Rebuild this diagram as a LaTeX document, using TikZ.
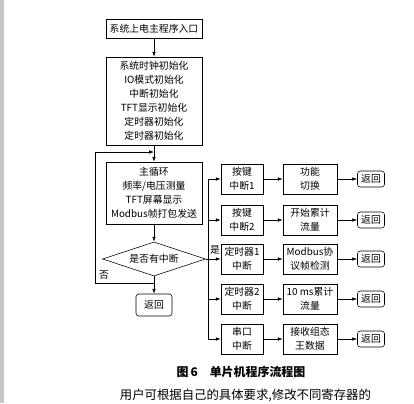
\documentclass[tikz,border=0pt]{standalone}
\usepackage{fontspec}
\setmainfont{Noto Sans CJK SC}
\usetikzlibrary{positioning,shapes.geometric,arrows.meta}

\begin{document}
\begin{tikzpicture}[ % one unit = one pixel of the reference
x=0.025cm, y=-0.025cm,
font=\fontsize{7}{10}\selectfont,
box/.style={rectangle, draw=black, thin, fill=white, inner sep=1pt, align=center},
big_box/.style={box, minimum width=24mm},
int_box/.style={box, minimum width=10.5mm, minimum height=7.5mm},
act_box/.style={box, minimum width=13.5mm, minimum height=7.5mm},
ret_box/.style={box, rounded corners=2pt, minimum width=6.75mm, minimum height=4mm},
decision/.style={diamond, draw=black, thin, fill=white, inner sep=0pt, aspect=3, minimum width=25.75mm, minimum height=8.5mm},
out_arrow/.style={-{Latex[length=3.5pt,width=2.5pt]}, thin},
plain_line/.style={thin}
]
\useasboundingbox (0,0) rectangle (414,403);
\fill[gray!45] (0,0) rectangle (4,403);

% main column
\node[big_box, minimum height=4.75mm](entry) at (154,29) {系统上电主程序入口};
\node[big_box, minimum height=22mm](init) at (154,101) {系统时钟初始化\\IO模式初始化\\中断初始化\\TFT显示初始化\\定时器初始化\\定时器初始化};
\node[big_box, minimum height=15.5mm](main_loop) at (154,193) {主循环\\频率/电压测量\\TFT屏幕显示\\Modbus帧打包发送};
\node[decision](has_int) at (154,259) {是否有中断};
\node[ret_box, minimum width=9mm, minimum height=5.5mm](main_ret) at (154,305) {返回};

% interrupt rows
\node[int_box](key1) at (242,179) {按键\\中断1};
\node[act_box](func_switch) at (310,179) {功能\\切换};
\node[ret_box](key1_ret) at (371,179) {返回};

\node[int_box](key2) at (242,220) {按键\\中断2};
\node[act_box](flow_start) at (310,220) {开始累计\\流量};
\node[ret_box](key2_ret) at (371,220) {返回};

\node[int_box](timer1) at (242,259) {定时器1\\中断};
\node[act_box](modbus_check) at (310,259) {Modbus协\\议帧检测};
\node[ret_box](timer1_ret) at (371,259) {返回};

\node[int_box](timer2) at (242,299) {定时器2\\中断};
\node[act_box](flow_10ms) at (310,299) {10 ms累计\\流量};
\node[ret_box](timer2_ret) at (371,299) {返回};

\node[int_box](uart) at (242,339) {串口\\中断};
\node[act_box](recv_data) at (310,339) {接收组态\\王数据};
\node[ret_box](uart_ret) at (371,339) {返回};

% labels
\node(yes_label) at (215,250) {是};
\node(no_label) at (104,275) {否};

% points of the bus and the loop
\coordinate(bus_top) at (208,179);
\coordinate(bus_mid) at (208,259);
\coordinate(bus_bot) at (208,339);
\coordinate(no_turn) at (154,283);
\coordinate(loop_bl) at (95,283);
\coordinate(loop_tl) at (95,152);
\coordinate(loop_in) at (154,152);

\draw[out_arrow](entry) -- (init);
\draw[out_arrow](init) -- (main_loop);
\draw[out_arrow](main_loop) -- (has_int);
\draw[out_arrow](has_int) -- (main_ret);
\draw[out_arrow](no_turn) -- (loop_bl) -- (loop_tl) -- (loop_in);

\draw[plain_line](has_int.east) -- (bus_mid);
\draw[plain_line](bus_top) -- (bus_bot);
\draw[out_arrow](bus_top) -- (key1);
\draw[out_arrow](key2 -| bus_top) -- (key2);
\draw[out_arrow](bus_mid) -- (timer1);
\draw[out_arrow](timer2 -| bus_top) -- (timer2);
\draw[out_arrow](bus_bot) -- (uart);

\draw[out_arrow](key1) -- (func_switch);
\draw[out_arrow](key2) -- (flow_start);
\draw[out_arrow](timer1) -- (modbus_check);
\draw[out_arrow](timer2) -- (flow_10ms);
\draw[out_arrow](uart) -- (recv_data);

\draw[out_arrow](func_switch) -- (key1_ret);
\draw[out_arrow](flow_start) -- (key2_ret);
\draw[out_arrow](modbus_check) -- (timer1_ret);
\draw[out_arrow](flow_10ms) -- (timer2_ret);
\draw[out_arrow](recv_data) -- (uart_ret);

% caption and text below
\node[font=\fontsize{8.5}{10}\selectfont\bfseries](caption) at (241,372) {图\,6\quad 单片机程序流程图};
\node[font=\fontsize{8.8}{11}\selectfont, anchor=west](body_text) at (115,395) {用户可根据自己的具体要求,修改不同寄存器的};

\end{tikzpicture}
\end{document}
